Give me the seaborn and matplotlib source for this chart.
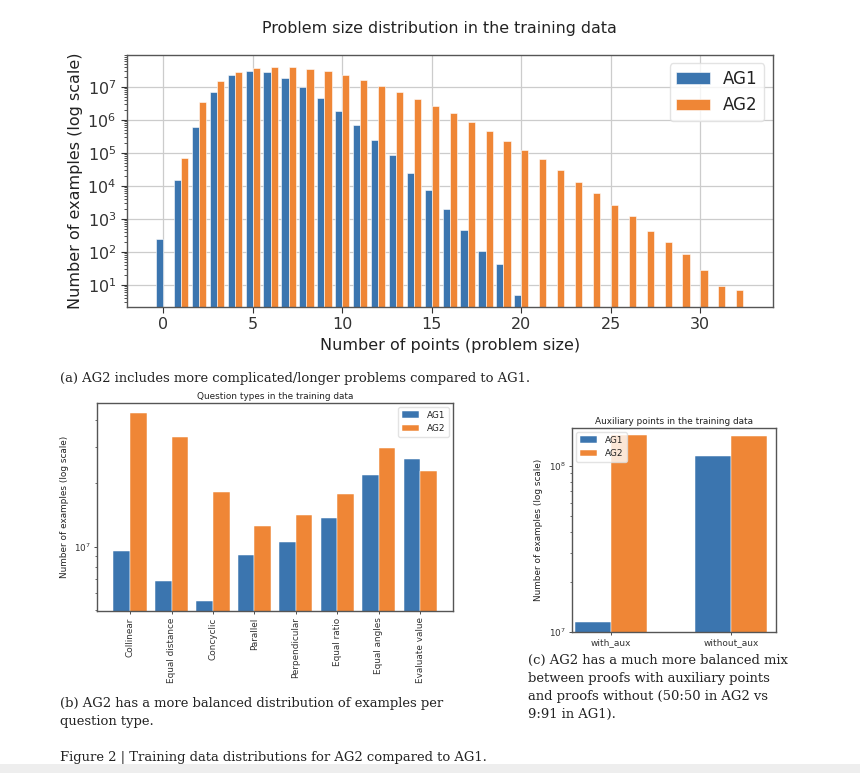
import pandas as pd
import matplotlib.pyplot as plt
import matplotlib.ticker as mticker
from matplotlib.patches import Rectangle
import seaborn as sns

# --- Data ---
MODELS = ["AG1", "AG2"]
COLORS = {"AG1": "#3b75af", "AG2": "#ef8636"}

SIZES_AG1 = list(range(0, 21))
COUNTS_AG1 = [240, 1.5e4, 5.9e5, 7.0e6, 2.2e7, 3.0e7, 2.8e7, 1.8e7, 9.5e6, 4.4e6,
              1.9e6, 7.0e5, 2.5e5, 8.5e4, 2.5e4, 7.7e3, 1950, 460, 107, 43, 5]
SIZES_AG2 = list(range(1, 33))
COUNTS_AG2 = [7.0e4, 3.5e6, 1.5e7, 2.8e7, 3.7e7, 4.0e7, 3.9e7, 3.5e7, 2.9e7, 2.2e7,
              1.55e7, 1.07e7, 6.7e6, 4.2e6, 2.6e6, 1.55e6, 8.3e5, 4.6e5, 2.3e5, 1.2e5,
              6.3e4, 3.0e4, 1.3e4, 6.0e3, 2.6e3, 1.2e3, 440, 200, 87, 29, 9, 7]

QUESTION_TYPES = ["Collinear", "Equal distance", "Concyclic", "Parallel",
                  "Perpendicular", "Equal ratio", "Equal angles", "Evaluate value"]
QT_AG1 = [9.5e6, 6.9e6, 5.5e6, 9.1e6, 1.05e7, 1.37e7, 2.19e7, 2.62e7]
QT_AG2 = [4.35e7, 3.32e7, 1.82e7, 1.25e7, 1.42e7, 1.79e7, 2.95e7, 2.3e7]

AUX_TYPES = ["with_aux", "without_aux"]
AUX_AG1 = [1.15e7, 1.15e8]
AUX_AG2 = [1.53e8, 1.51e8]

CAPTION_A = "(a) AG2 includes more complicated/longer problems compared to AG1."
CAPTION_B = ["(b) AG2 has a more balanced distribution of examples per",
             "question type."]
CAPTION_C = ["(c) AG2 has a much more balanced mix",
             "between proofs with auxiliary points",
             "and proofs without (50:50 in AG2 vs",
             "9:91 in AG1)."]
FIG_CAPTION = "Figure 2 | Training data distributions for AG2 compared to AG1."

# --- Styling ---
sns.set_theme(style="whitegrid", rc={
    "axes.edgecolor": "#555555",
    "axes.linewidth": 1.0,
    "grid.color": "#cccccc",
    "grid.linewidth": 0.9,
    "xtick.bottom": True,
    "ytick.left": True,
    "xtick.color": "#333333",
    "ytick.color": "#333333",
    "text.color": "#222222",
    "axes.labelcolor": "#222222",
})
plt.rcParams["font.family"] = ["DejaVu Sans"]

W, H = 860, 773
fig = plt.figure(figsize=(W / 100, H / 100), dpi=100)


def px_axes(left, top, right, bottom):
    return fig.add_axes([left / W, 1 - bottom / H, (right - left) / W, (bottom - top) / H])


def long_df(cats, ag1, ag2, key, cats2=None):
    cats2 = cats if cats2 is None else cats2
    return pd.concat([
        pd.DataFrame({key: cats, "count": ag1, "model": "AG1"}),
        pd.DataFrame({key: cats2, "count": ag2, "model": "AG2"}),
    ], ignore_index=True)


def bars(ax, df, x, width, lw, **kw):
    sns.barplot(data=df, x=x, y="count", hue="model", hue_order=MODELS,
                palette=COLORS, width=width, saturation=1, errorbar=None,
                edgecolor="white", linewidth=lw, ax=ax, **kw)
    ax.set_yscale("log")
    ax.yaxis.set_minor_formatter(mticker.NullFormatter())


# --- (a) problem size distribution ---
df_a = long_df(SIZES_AG1, COUNTS_AG1, COUNTS_AG2, "size", SIZES_AG2)
ax_a = px_axes(126.7, 55, 772.7, 306.7)
bars(ax_a, df_a, "size", 0.8, 0.4, native_scale=True)
ax_a.set_xlim(-2.04, 34.04)
ax_a.set_ylim(2.2, 9.1e7)
ax_a.set_xticks(range(0, 31, 5))
ax_a.set_axisbelow(True)
ax_a.tick_params(axis="both", which="major", labelsize=11.5, length=4, width=0.8)
ax_a.tick_params(axis="y", which="minor", length=2, width=0.6, left=True)
ax_a.set_xlabel("Number of points (problem size)", fontsize=11.5, labelpad=4)
ax_a.set_ylabel("Number of examples (log scale)", fontsize=11.5, labelpad=3)
h, l = ax_a.get_legend_handles_labels()
ax_a.legend(h, l, loc="upper right", fontsize=12, frameon=True, framealpha=0.8,
            edgecolor="#dddddd", fancybox=True)
fig.text(439 / W, 1 - 28 / H, "Problem size distribution in the training data",
         ha="center", va="center", fontsize=11.4)

# --- (b) question types ---
df_b = long_df(QUESTION_TYPES, QT_AG1, QT_AG2, "qtype")
ax_b = px_axes(97.3, 402.7, 453, 611)
bars(ax_b, df_b, "qtype", 0.8, 0.35)
ax_b.grid(False)
ax_b.set_xlim(-0.79, 7.79)
ax_b.set_ylim(4.94e6, 4.85e7)
ax_b.tick_params(axis="x", labelsize=6.4, rotation=90, length=2.5, width=0.6, pad=2)
ax_b.tick_params(axis="y", which="major", labelsize=6.4, length=2.5, width=0.6, pad=2)
ax_b.tick_params(axis="y", which="minor", length=1.5, width=0.5, left=True)
ax_b.set_xlabel("")
ax_b.set_ylabel("Number of examples (log scale)", fontsize=6.4, labelpad=4)
ax_b.set_title("Question types in the training data", fontsize=6.4, pad=3)
h, l = ax_b.get_legend_handles_labels()
ax_b.legend(h, l, loc="upper right", fontsize=6.4, frameon=True, framealpha=0.8,
            edgecolor="#dddddd")

# --- (c) auxiliary points ---
df_c = long_df(AUX_TYPES, AUX_AG1, AUX_AG2, "aux")
ax_c = px_axes(571.7, 427.7, 776, 632)
bars(ax_c, df_c, "aux", 0.6, 0.35)
ax_c.grid(False)
ax_c.set_xlim(-0.324, 1.374)
ax_c.set_ylim(1e7, 1.69e8)
ax_c.tick_params(axis="x", labelsize=6.5, length=2.5, width=0.6, pad=2)
ax_c.tick_params(axis="y", which="major", labelsize=6.4, length=2.5, width=0.6, pad=2)
ax_c.tick_params(axis="y", which="minor", length=1.5, width=0.5, left=True)
ax_c.set_xlabel("")
ax_c.set_ylabel("Number of examples (log scale)", fontsize=6.4, labelpad=4)
ax_c.set_title("Auxiliary points in the training data", fontsize=6.4, pad=3)
h, l = ax_c.get_legend_handles_labels()
ax_c.legend(h, l, loc="upper left", fontsize=6.4, frameon=True, framealpha=0.8,
            edgecolor="#dddddd")

# --- captions ---
serif = dict(family="DejaVu Serif", fontsize=9.45, va="center", ha="left", color="#222222")
fig.text(60 / W, 1 - 378 / H, CAPTION_A, **serif)
for i, line in enumerate(CAPTION_B):
    fig.text(60 / W, 1 - (703 + 18.5 * i) / H, line, **serif)
for i, line in enumerate(CAPTION_C):
    fig.text(527.5 / W, 1 - (660 + 18.2 * i) / H, line, **serif)
fig.text(60 / W, 1 - 757 / H, FIG_CAPTION, **serif)

# light grey strip at the bottom of the page screenshot
fig.patches.append(Rectangle((0, 0), 1, 9 / H, transform=fig.transFigure,
                             facecolor="#eeeeee", edgecolor="none", zorder=-1))

fig.savefig("out.png", dpi=100, facecolor="white")
